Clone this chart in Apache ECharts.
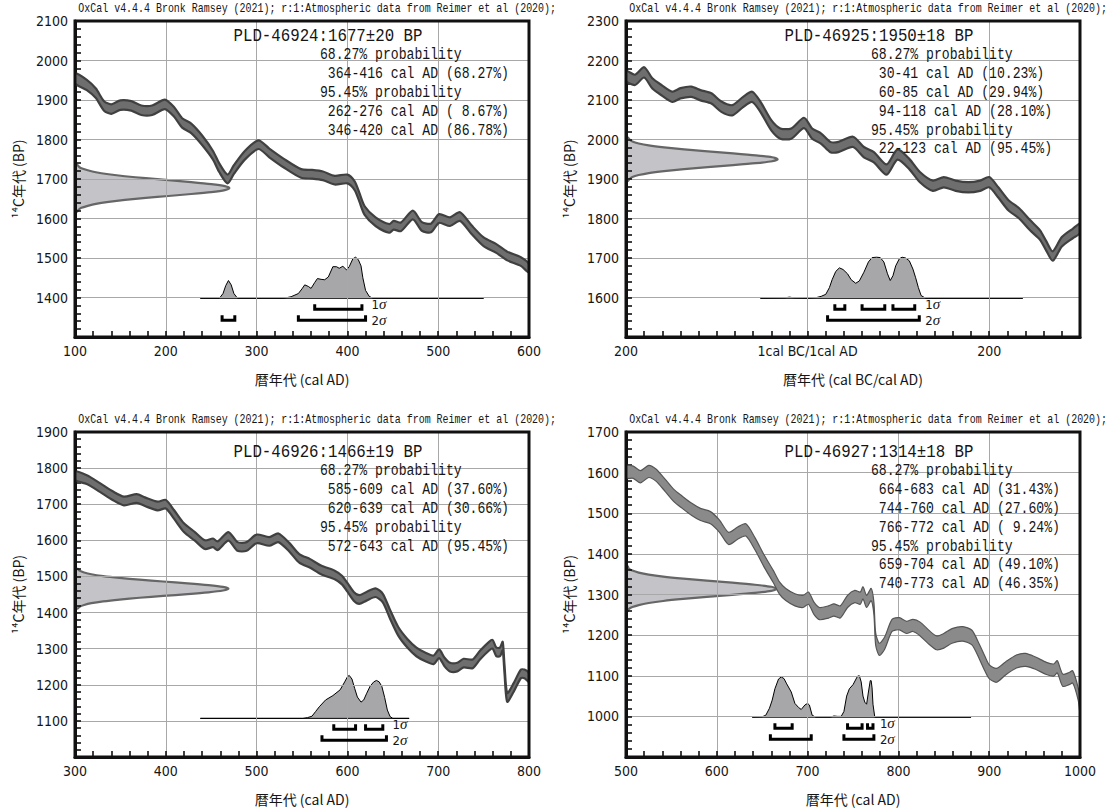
<!DOCTYPE html>
<html>
<head>
<meta charset="utf-8">
<script src="https://cdn.jsdelivr.net/npm/echarts@6.0.0/dist/echarts.min.js"></script>
<style>
html, body { margin: 0; padding: 0; background: #fff; }
#main { width: 1110px; height: 809px; }
</style>
</head>
<body>
<div id="main"></div>
<script>
// ---- data ----
const header = 'OxCal v4.4.4 Bronk Ramsey (2021); r:1:Atmospheric data from Reimer et al (2020);';
const sampleTitles = ['PLD-46924:1677±20 BP', 'PLD-46925:1950±18 BP', 'PLD-46926:1466±19 BP', 'PLD-46927:1314±18 BP'];

const probText1 = ['68.27% probability', ' 364-416 cal AD (68.27%)', '95.45% probability', ' 262-276 cal AD ( 8.67%)', ' 346-420 cal AD (86.78%)'];
const probText2 = ['68.27% probability', ' 30-41 cal AD (10.23%)', ' 60-85 cal AD (29.94%)', ' 94-118 cal AD (28.10%)', '95.45% probability', ' 22-123 cal AD (95.45%)'];
const probText3 = ['68.27% probability', ' 585-609 cal AD (37.60%)', ' 620-639 cal AD (30.66%)', '95.45% probability', ' 572-643 cal AD (95.45%)'];
const probText4 = ['68.27% probability', ' 664-683 cal AD (31.43%)', ' 744-760 cal AD (27.60%)', ' 766-772 cal AD ( 9.24%)', '95.45% probability', ' 659-704 cal AD (49.10%)', ' 740-773 cal AD (46.35%)'];

// axis ranges
const xRange1 = [100, 600], yRange1 = [1300, 2100];
const xRange2 = [-200, 300], yRange2 = [1500, 2300];
const xRange3 = [300, 800], yRange3 = [1000, 1900];
const xRange4 = [500, 1000], yRange4 = [900, 1700];
// tick labels of the BC/AD panel
const xTicks2 = [-200, 0, 200];
const xTickText2 = ['200', '1cal BC/1cal AD', '200'];

// calibration curve: [cal AD, 14C BP, half width]
const curve1 = [[100,1955,13],[113,1938,13],[123,1917,12],[132,1885,12],[140,1877,12],[150,1887,12],[162,1885,12],[173,1874,12],[185,1874,12],[199,1889,12],[209,1870,12],[218,1842,12],[228,1828,12],[240,1798,12],[252,1760,11],[259,1728,11],[268,1700,11],[275,1724,11],[287,1760,11],[302,1787,11],[314,1766,11],[330,1740,11],[349,1714,11],[361,1712,11],[373,1708,11],[386,1697,11],[400,1700,11],[408,1683,11],[413,1655,11],[419,1620,11],[431,1592,11],[446,1575,11],[451,1583,11],[459,1579,11],[472,1609,11],[482,1580,11],[492,1576,11],[501,1600,11],[513,1592,11],[524,1605,11],[537,1571,11],[550,1541,11],[564,1524,11],[576,1505,11],[591,1491,11],[600,1474,11]];
const curve2 = [[-200,2161,13],[-190,2151,13],[-180,2170,13],[-171,2142,13],[-161,2125,13],[-149,2108,13],[-140,2117,13],[-128,2121,13],[-118,2112,13],[-106,2104,13],[-95,2083,13],[-83,2074,13],[-71,2095,13],[-61,2108,13],[-52,2083,13],[-40,2036,13],[-30,2015,13],[-18,2015,13],[-4,2042,13],[5,2015,13],[15,2002,13],[25,1981,13],[34,1981,13],[50,1994,13],[62,1968,13],[73,1955,13],[87,1924,13],[99,1962,13],[112,1938,13],[124,1904,13],[138,1883,13],[150,1892,13],[163,1883,13],[177,1879,13],[190,1883,13],[200,1892,13],[210,1866,13],[221,1834,13],[233,1813,13],[245,1783,13],[256,1758,12],[263,1730,12],[270,1705,12],[280,1741,12],[292,1762,12],[300,1775,12]];
const curve3 = [[300,1779,12],[313,1768,12],[327,1747,12],[342,1723,12],[354,1709,12],[368,1716,12],[377,1707,12],[391,1695,12],[400,1700,12],[409,1672,12],[420,1635,12],[432,1611,12],[443,1588,12],[452,1593,12],[457,1585,12],[469,1611,12],[479,1583,12],[489,1583,12],[500,1604,12],[514,1597,12],[524,1607,12],[536,1581,12],[547,1550,12],[559,1536,12],[571,1518,12],[586,1504,12],[594,1490,12],[600,1470,12],[607,1445,12],[613,1436,12],[621,1445,12],[631,1455,12],[639,1440,12],[647,1395,12],[656,1348,12],[666,1315,12],[676,1291,12],[686,1277,12],[695,1269,12],[701,1286,12],[707,1263,12],[713,1249,12],[721,1249,12],[728,1260,12],[738,1258,12],[746,1282,12],[756,1307,12],[760,1312,12],[764,1291,12],[768,1291,12],[771,1307,12],[773,1244,12],[776,1165,12],[783,1192,12],[791,1230,12],[795,1230,12],[800,1220,12]];
const curve4 = [[500,1602,15],[508,1601,15],[516,1590,15],[525,1603,15],[533,1594,15],[543,1569,15],[553,1543,15],[562,1527,15],[572,1510,15],[582,1497,15],[593,1489,15],[603,1468,15],[613,1438,15],[623,1451,15],[632,1459,15],[642,1425,15],[652,1383,15],[662,1345,15],[669,1316,15],[676,1300,15],[686,1287,15],[695,1283,15],[701,1291,15],[707,1266,15],[713,1253,15],[723,1257,15],[729,1262,15],[736,1257,15],[744,1283,15],[752,1295,15],[758,1291,15],[761,1304,15],[765,1283,15],[770,1300,15],[773,1266,15],[775,1190,15],[779,1165,15],[785,1181,15],[793,1224,15],[801,1228,15],[809,1219,15],[816,1224,15],[824,1215,17],[834,1194,17],[842,1181,17],[850,1186,18],[859,1198,18],[871,1203,18],[881,1194,18],[889,1160,18],[895,1131,18],[900,1110,17],[908,1101,17],[918,1118,16],[930,1135,16],[940,1139,16],[951,1131,15],[963,1118,15],[971,1114,15],[975,1122,15],[981,1089,15],[988,1093,15],[992,1097,15],[998,1055,15],[1000,1021,15]];

// radiocarbon date distribution on the y axis: [14C BP, length in years]
const c14Dist1 = [[1737,2],[1732,4],[1727,7],[1722,14],[1717,23],[1712,37],[1707,55],[1702,78],[1697,103],[1692,128],[1687,150],[1682,165],[1677,170],[1672,165],[1667,150],[1662,128],[1657,103],[1652,78],[1647,55],[1642,37],[1637,23],[1632,14],[1627,7],[1622,4],[1617,2]];
const c14Dist2 = [[2005,2],[2000,4],[1995,7],[1990,14],[1985,25],[1980,42],[1975,64],[1970,90],[1965,118],[1960,143],[1955,161],[1950,167],[1945,161],[1940,143],[1935,118],[1930,90],[1925,64],[1920,42],[1915,25],[1910,14],[1905,7],[1900,4],[1895,2]];
const c14Dist3 = [[1521,3],[1516,5],[1511,10],[1506,18],[1501,31],[1496,49],[1491,71],[1486,97],[1481,124],[1476,147],[1471,163],[1466,169],[1461,163],[1456,147],[1451,124],[1446,97],[1441,71],[1436,49],[1431,31],[1426,18],[1421,10],[1416,5],[1411,3]];
const c14Dist4 = [[1369,2],[1364,3],[1359,7],[1354,14],[1349,25],[1344,41],[1339,63],[1334,89],[1329,117],[1324,142],[1319,160],[1314,166],[1309,160],[1304,142],[1299,117],[1294,89],[1289,63],[1284,41],[1279,25],[1274,14],[1269,7],[1264,3],[1259,2]];

// calibrated distribution drawn above its baseline: [cal AD, 14C BP level]
const calBase = [1398, 1598, 1107, 998];
const calDist1 = [[238,1398],[259,1398],[263,1410],[266,1430],[269,1443],[272,1432],[275,1410],[279,1398],[330,1398],[338,1402],[346,1410],[350,1422],[353,1432],[357,1428],[360,1423],[364,1438],[367,1448],[371,1446],[375,1445],[379,1452],[384,1478],[388,1478],[391,1474],[395,1479],[399,1470],[402,1478],[406,1498],[409,1502],[412,1496],[415,1480],[417,1450],[420,1418],[424,1403],[428,1398],[550,1398]];
const calDist2 = [[-52,1598],[-25,1599],[-20,1601],[-15,1599],[0,1598],[10,1600],[15,1603],[20,1608],[24,1625],[27,1645],[31,1666],[35,1675],[39,1671],[44,1660],[48,1645],[53,1636],[57,1642],[62,1664],[67,1690],[71,1701],[76,1702],[80,1701],[84,1690],[88,1660],[91,1643],[94,1655],[97,1680],[101,1698],[104,1702],[108,1700],[112,1693],[116,1672],[119,1650],[122,1625],[125,1605],[130,1598],[237,1598]];
const calDist3 = [[438,1107],[551,1107],[556,1109],[561,1113],[565,1126],[569,1139],[576,1158],[584,1170],[592,1186],[597,1208],[600,1222],[602,1226],[605,1216],[608,1190],[611,1166],[615,1152],[618,1158],[621,1175],[625,1196],[629,1208],[632,1212],[635,1208],[638,1195],[641,1165],[644,1130],[647,1112],[650,1107],[668,1107]];
const calDist4 = [[639,998],[650,999],[654,1003],[658,1020],[661,1040],[664,1068],[668,1092],[671,1097],[674,1093],[677,1080],[682,1060],[686,1032],[690,1022],[693,1017],[697,1028],[700,1032],[702,1028],[705,1003],[709,998],[725,998],[729,1001],[733,1000],[737,1000],[740,1012],[743,1050],[746,1068],[750,1078],[755,1099],[757,1100],[759,1085],[761,1050],[763,1035],[765,1030],[767,1060],[769,1088],[770,1088],[771,1070],[772,1030],[774,998],[880,998]];

// 1 sigma and 2 sigma ranges (cal AD)
const sigma1_1 = [[364,416]], sigma2_1 = [[262,276],[346,420]];
const sigma1_2 = [[30,41],[60,85],[94,118]], sigma2_2 = [[22,123]];
const sigma1_3 = [[585,609],[620,639]], sigma2_3 = [[572,643]];
const sigma1_4 = [[664,683],[744,760],[766,772]], sigma2_4 = [[659,704],[740,773]];

// ---- fonts ----
function hasFont(name) {
  const ctx = document.createElement('canvas').getContext('2d');
  const s = 'abcdefghijklmnopqrstuvwxyz0123456789';
  return ['monospace', 'serif'].some(function (base) {
    ctx.font = '32px ' + base;
    const w0 = ctx.measureText(s).width;
    ctx.font = '32px "' + name + '", ' + base;
    return ctx.measureText(s).width !== w0;
  });
}
let numFont = 'Liberation Sans', numSize = 14;
if (hasFont('Liberation Sans Narrow')) { numFont = 'Liberation Sans Narrow'; numSize = 17; }
else if (hasFont('DejaVu Sans Condensed')) { numFont = 'DejaVu Sans Condensed'; numSize = 14; }
const monoFont = '"Liberation Mono", "DejaVu Sans Mono", monospace';
const jpFont = '"Noto Sans CJK JP", sans-serif';
const ink = '#151515';

// ---- panels ----
const panels = [
  { left: 75,  top: 21,  height: 316, textTop: 18,  x: xRange1, y: yRange1, xName: '暦年代 (cal AD)', curve: curve1, c14: c14Dist1, cal: calDist1, s1: sigma1_1, s2: sigma2_1, prob: probText1, band: ['#6e6e6e', '#404040', 2.2] },
  { left: 626, top: 21,  height: 316, textTop: 18,  x: xRange2, y: yRange2, xName: '暦年代 (cal BC/cal AD)', curve: curve2, c14: c14Dist2, cal: calDist2, s1: sigma1_2, s2: sigma2_2, prob: probText2, band: ['#6e6e6e', '#404040', 2.2] },
  { left: 75,  top: 432, height: 325, textTop: 434, x: xRange3, y: yRange3, xName: '暦年代 (cal AD)', curve: curve3, c14: c14Dist3, cal: calDist3, s1: sigma1_3, s2: sigma2_3, prob: probText3, band: ['#6e6e6e', '#404040', 2.2] },
  { left: 626, top: 432, height: 325, textTop: 434, x: xRange4, y: yRange4, xName: '暦年代 (cal AD)', curve: curve4, c14: c14Dist4, cal: calDist4, s1: sigma1_4, s2: sigma2_4, prob: probText4, band: ['#8a8a8a', '#555555', 1.2] }
];
const plotW = 454;
const plain = function (v) { return String(v); };
const tickStyle = { show: true, inside: true, length: 6, lineStyle: { color: '#111', width: 1.6 } };
const minorStyle = { show: true, splitNumber: 5, length: 6, lineStyle: { color: '#111', width: 1.6 } };

const grids = [], xAxes = [], yAxes = [], series = [], graphics = [];

panels.forEach(function (p, i) {
  grids.push({
    left: p.left, top: p.top, width: plotW, height: p.height,
    show: true, z: 10, backgroundColor: 'rgba(0,0,0,0)', borderColor: '#111', borderWidth: 3
  });

  const isBC = i === 1;
  xAxes.push({
    type: 'value', gridIndex: i, min: p.x[0], max: p.x[1], interval: 100,
    name: p.xName, nameLocation: 'middle', nameGap: 35,
    nameTextStyle: { fontFamily: jpFont, fontSize: 14, color: ink },
    axisLine: { show: true, onZero: false, lineStyle: { color: '#111', width: 3 } },
    axisTick: tickStyle,
    minorTick: minorStyle,
    axisLabel: {
      margin: 7, fontFamily: numFont, fontSize: numSize, color: ink,
      showMinLabel: true, showMaxLabel: !isBC,
      formatter: isBC ? function (v) { const k = xTicks2.indexOf(v); return k < 0 ? '' : xTickText2[k]; } : plain
    },
    splitLine: { show: true, lineStyle: { color: isBC ? ['#a8a8a8', 'rgba(0,0,0,0)'] : '#a8a8a8', width: 1 } }
  });

  yAxes.push({
    type: 'value', gridIndex: i, min: p.y[0], max: p.y[1], interval: 100,
    name: '¹⁴C年代 (BP)', nameLocation: 'middle', nameGap: 50, nameRotate: 90,
    nameTextStyle: { fontFamily: jpFont, fontSize: 14, color: ink },
    axisLine: { show: true, onZero: false, lineStyle: { color: '#111', width: 3 } },
    axisTick: tickStyle,
    minorTick: minorStyle,
    axisLabel: { margin: 7, fontFamily: numFont, fontSize: numSize, color: ink, showMinLabel: false, formatter: plain },
    splitLine: { show: true, lineStyle: { color: '#a8a8a8', width: 1 } }
  });

  const common = { type: 'custom', xAxisIndex: i, yAxisIndex: i, clip: true, silent: true, data: [[p.x[0], p.y[0]]] };

  // radiocarbon date on the y axis (under the grid lines)
  series.push(Object.assign({}, common, {
    z: -2,
    renderItem: function (params, api) {
      const pts = p.c14.map(function (d) { return api.coord([p.x[0] + d[1], d[0]]); });
      pts.unshift(api.coord([p.x[0], p.c14[0][0]]));
      pts.push(api.coord([p.x[0], p.c14[p.c14.length - 1][0]]));
      return { type: 'polygon', shape: { points: pts, smooth: 0.25 }, style: { fill: '#c4c4c8', stroke: '#666', lineWidth: 2.2 } };
    }
  }));

  // calibrated distribution
  series.push(Object.assign({}, common, {
    z: -2,
    renderItem: function (params, api) {
      const pts = p.cal.map(function (d) { return api.coord(d); });
      return { type: 'polygon', shape: { points: pts }, style: { fill: '#a7a7aa', stroke: '#000', lineWidth: 1 } };
    }
  }));

  // calibration curve band
  series.push(Object.assign({}, common, {
    z: 2,
    renderItem: function (params, api) {
      const up = p.curve.map(function (d) { return api.coord([d[0], d[1] + d[2]]); });
      const lo = p.curve.slice().reverse().map(function (d) { return api.coord([d[0], d[1] - d[2]]); });
      return { type: 'polygon', shape: { points: up.concat(lo), smooth: 0.25 }, style: { fill: p.band[0], stroke: p.band[1], lineWidth: p.band[2] } };
    }
  }));

  // sigma range brackets and their labels
  series.push(Object.assign({}, common, {
    z: 3, clip: false,
    renderItem: function (params, api) {
      const base = calBase[i];
      const yb = api.coord([p.x[0], base])[1];
      const children = [];
      let maxEnd = -Infinity;
      [[p.s1, 11], [p.s2, 22]].forEach(function (lvl) {
        lvl[0].forEach(function (r) {
          const a = api.coord([r[0], base])[0];
          const b = api.coord([r[1], base])[0];
          const y = yb + lvl[1];
          maxEnd = Math.max(maxEnd, r[1]);
          children.push({ type: 'polyline', shape: { points: [[a, y - 5], [a, y], [b, y], [b, y - 5]] }, style: { stroke: '#000', lineWidth: 3, fill: 'none' } });
        });
      });
      const xl = api.coord([maxEnd, base])[0] + 6;
      [['1', yb + 6], ['2', yb + 22]].forEach(function (t) {
        children.push({
          type: 'text', x: xl, y: t[1],
          style: {
            text: t[0] + '{g|σ}', fill: ink, fontFamily: numFont, fontSize: 13,
            align: 'left', verticalAlign: 'middle',
            rich: { g: { fontFamily: '"Liberation Serif", serif', fontStyle: 'italic', fontSize: 15, fill: ink } }
          }
        });
      });
      return { type: 'group', children: children };
    }
  }));

  // texts
  graphics.push({
    type: 'text', x: p.left + 481, y: p.top - 12, scaleX: 0.83, z: 30, silent: true,
    style: { text: header, font: '12px ' + monoFont, fill: ink, align: 'right', verticalAlign: 'middle', textAlign: 'right', textVerticalAlign: 'middle' }
  });
  graphics.push({
    type: 'text', x: p.left + 253, y: p.textTop + 18, scaleX: 0.83, z: 30, silent: true,
    style: { text: sampleTitles[i], font: '19px ' + monoFont, fill: ink, align: 'center', verticalAlign: 'middle', textAlign: 'center', textVerticalAlign: 'middle' }
  });
  p.prob.forEach(function (line, k) {
    graphics.push({
      type: 'text', x: p.left + 245, y: p.textTop + 37 + k * 18.8, scaleX: 0.82, z: 30, silent: true,
      style: { text: line, font: '16px ' + monoFont, fill: ink, align: 'left', verticalAlign: 'middle', textAlign: 'left', textVerticalAlign: 'middle' }
    });
  });
});

const chart = echarts.init(document.getElementById('main'), null, { renderer: 'svg' });
chart.setOption({
  animation: false,
  backgroundColor: '#fff',
  grid: grids,
  xAxis: xAxes,
  yAxis: yAxes,
  series: series,
  graphic: graphics
});
</script>
</body>
</html>
